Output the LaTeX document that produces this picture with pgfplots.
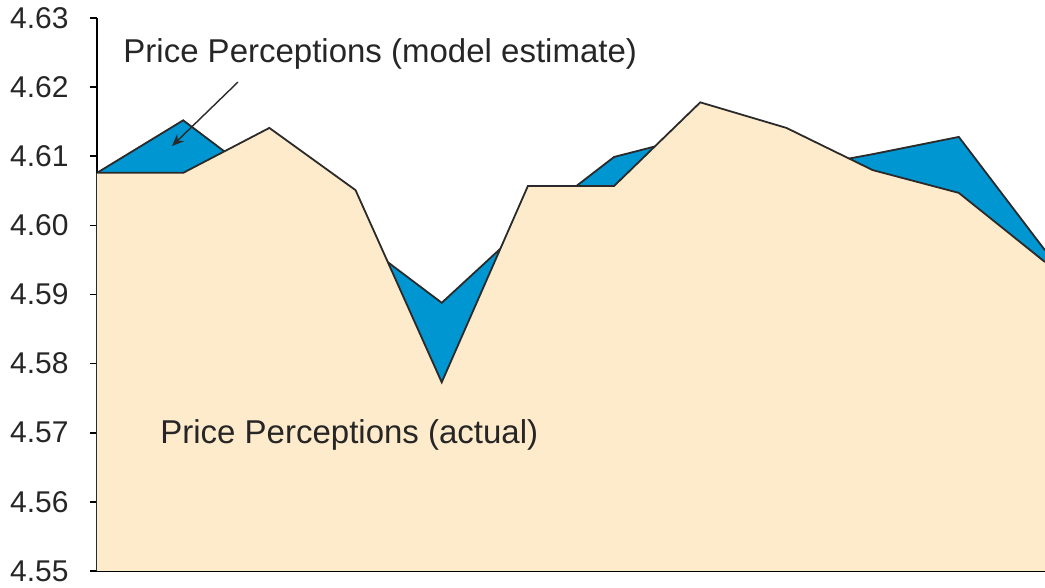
\documentclass[border=0pt]{standalone}
\usepackage{fontspec}
\setmainfont{Liberation Sans}
\usepackage{pgfplots}
\pgfplotsset{compat=1.18}
\usetikzlibrary{arrows.meta}
\definecolor{beige}{HTML}{FEEBCB}
\definecolor{mblue}{HTML}{0096D2}
\definecolor{lgray}{HTML}{2A2A2A}
\begin{document}
\fontsize{16.5}{19}\selectfont
\begin{tikzpicture}
\path[use as bounding box] (-48.5pt,-8.5pt) rectangle (474pt,285.5pt);
\begin{axis}[
  at={(0,0)}, anchor=south west,
  scale only axis, width=474pt, height=276.5pt,
  xmin=0, xmax=11, ymin=4.55, ymax=4.63,
  axis x line*=bottom, axis y line*=left,
  axis line style={-, black, line width=1pt},
  xtick=\empty,
  ytick={4.55,4.56,4.57,4.58,4.59,4.60,4.61,4.62,4.63},
  tick align=outside, major tick length=3.5pt,
  tick style={black, line width=0.8pt},
  yticklabel style={/pgf/number format/fixed, /pgf/number format/precision=2,
    /pgf/number format/fixed zerofill, /pgf/number format/assume math mode=true,
    font=\fontsize{15}{18}\selectfont, text=black!85, xshift=-5pt},
  clip=true,
]
% model estimate
\addplot[fill=mblue, draw=none] coordinates {
 (0,4.6076) (1,4.6152) (2,4.6058) (3,4.5982) (4,4.5888) (5,4.6003)
 (6,4.6099) (7,4.6131) (8,4.6080) (9,4.6103) (10,4.6128) (11,4.5964)
} \closedcycle;
\addplot[lgray, line width=0.9pt] coordinates {
 (0,4.6076) (1,4.6152) (2,4.6058) (3,4.5982) (4,4.5888) (5,4.6003)
 (6,4.6099) (7,4.6131) (8,4.6080) (9,4.6103) (10,4.6128) (11,4.5964)
};
% actual
\addplot[fill=beige, draw=none] coordinates {
 (0,4.6076) (1,4.6076) (2,4.6141) (3,4.6051) (4,4.5773) (5,4.6057)
 (6,4.6057) (7,4.6178) (8,4.6141) (9,4.6080) (10,4.6047) (11,4.5947)
} \closedcycle;
\addplot[lgray, line width=0.9pt] coordinates {
 (0,4.6076) (1,4.6076) (2,4.6141) (3,4.6051) (4,4.5773) (5,4.6057)
 (6,4.6057) (7,4.6178) (8,4.6141) (9,4.6080) (10,4.6047) (11,4.5947)
};
\draw[lgray, line width=0.7pt, -{Stealth[length=6pt,width=5pt]}] (axis cs:1.636,4.62074) -- (axis cs:0.870,4.61148);
\node[anchor=base west, inner sep=0pt, text=black!85] at (axis cs:0.302,4.62363) {Price Perceptions (model estimate)};
\node[anchor=base west, inner sep=0pt, text=black!85] at (axis cs:0.731,4.5684) {Price Perceptions (actual)};
\end{axis}
\end{tikzpicture}
\end{document}
